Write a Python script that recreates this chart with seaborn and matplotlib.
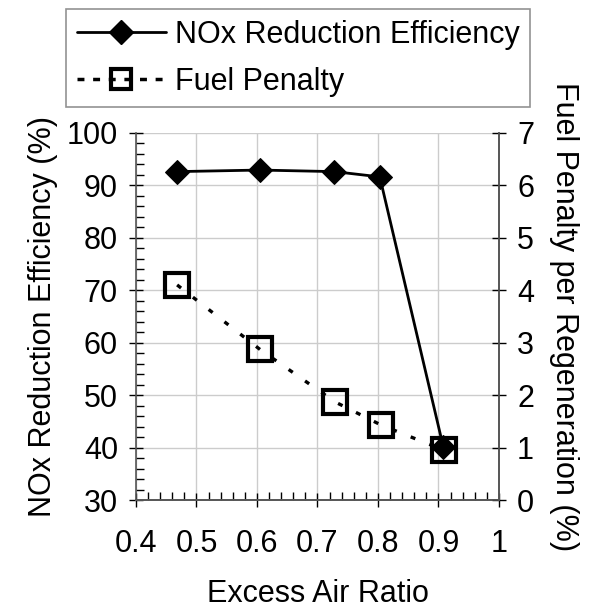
import numpy as np
import pandas as pd
import matplotlib.pyplot as plt
from matplotlib.ticker import MultipleLocator
from matplotlib.lines import Line2D
import seaborn as sns

excess_air = [0.467, 0.605, 0.728, 0.803, 0.908]
nox_eff = [92.6, 92.9, 92.6, 91.6, 40.1]
excess_air_fp = [0.468, 0.605, 0.729, 0.805, 0.909]
fuel_penalty = [4.1, 2.87, 1.87, 1.43, 0.95]

df_nox = pd.DataFrame({"x": excess_air, "y": nox_eff})
df_fp = pd.DataFrame({"x": excess_air_fp, "y": fuel_penalty})

sns.set_theme(style="white")
plt.rcParams["font.family"] = ["Liberation Sans", "DejaVu Sans"]
plt.rcParams["text.color"] = "black"
plt.rcParams["axes.labelcolor"] = "black"
plt.rcParams["xtick.color"] = "black"
plt.rcParams["ytick.color"] = "black"

FS = 22

fig = plt.figure(figsize=(6.03, 6.12), dpi=100)
ax = fig.add_axes([0.2255, 0.183, 0.602, 0.600])
ax2 = ax.twinx()

sns.lineplot(data=df_nox, x="x", y="y", ax=ax, color="black", lw=2,
             marker="D", markersize=12, markeredgecolor="black", zorder=4)
sns.lineplot(data=df_fp, x="x", y="y", ax=ax2, color="black", lw=2.4,
             marker="s", markersize=17, markerfacecolor="none",
             markeredgecolor="black", markeredgewidth=3, zorder=3)
ax2.lines[0].set_dashes([1.5, 4.5])

ax.set_xlim(0.4, 1.0)
ax.set_ylim(30, 100)
ax2.set_ylim(0, 7)
ax.xaxis.set_major_locator(MultipleLocator(0.1))
ax.xaxis.set_minor_locator(MultipleLocator(0.02))
ax.yaxis.set_major_locator(MultipleLocator(10))
ax.yaxis.set_minor_locator(MultipleLocator(2))
ax2.yaxis.set_major_locator(MultipleLocator(1))
ax.set_xticks(np.arange(0.4, 1.01, 0.1))
ax.set_xticklabels(["0.4", "0.5", "0.6", "0.7", "0.8", "0.9", "1"])

ax.grid(True, which="major", color="#cccccc", lw=1)
ax.set_axisbelow(True)
for a in (ax, ax2):
    a.spines["top"].set_visible(False)
    for s in ("left", "right", "bottom"):
        a.spines[s].set_color("#555555")
        a.spines[s].set_linewidth(1.2)
ax2.spines["left"].set_visible(False)

ax.tick_params(axis="both", which="major", direction="inout", length=10, width=1,
               labelsize=FS, pad=8)
ax.tick_params(axis="x", which="major", pad=16)
ax.tick_params(axis="both", which="minor", direction="in", length=6, width=1)
ax.tick_params(axis="x", which="both", bottom=True)
ax.tick_params(axis="y", which="both", left=True)
ax2.tick_params(axis="y", which="major", direction="inout", length=10, width=1,
                labelsize=FS, right=True, pad=8)

ax.set_xlabel("Excess Air Ratio", fontsize=FS, labelpad=14)
ax.set_ylabel("NOx Reduction Efficiency (%)", fontsize=FS, labelpad=6)
ax2.set_ylabel("Fuel Penalty per Regeneration (%)", fontsize=FS, rotation=270, labelpad=32)

handles = [
    Line2D([], [], color="black", lw=2, marker="D", markersize=12),
    Line2D([], [], color="black", lw=2.5, dashes=[2, 2.5], marker="s", markersize=15,
           markerfacecolor="none", markeredgewidth=3),
]
leg = fig.legend(handles, ["NOx Reduction Efficiency", "Fuel Penalty"],
                 loc="upper left", bbox_to_anchor=(0.11, 0.985), fontsize=FS,
                 frameon=True, fancybox=False, handlelength=2.9, handletextpad=0.3,
                 borderpad=0.35, labelspacing=0.55, borderaxespad=0)
leg.get_frame().set_edgecolor("#777777")
leg.get_frame().set_linewidth(1.2)

fig.savefig("out.png", dpi=100)
